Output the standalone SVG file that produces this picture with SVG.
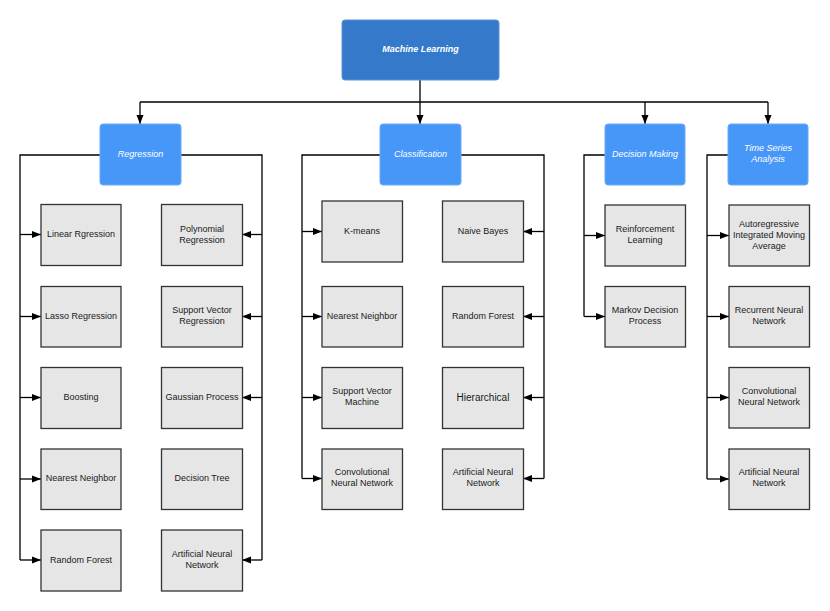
<svg xmlns="http://www.w3.org/2000/svg" width="830" height="611" viewBox="0 0 830 611">
<style>
.bg{fill:#ffffff}
.top{fill:#3479CA;stroke:#5a92d6;stroke-width:1}
.hdr{fill:#4797F8;stroke:#6aabf8;stroke-width:1}
.box{fill:#E6E6E6;stroke:#333333;stroke-width:1.3}
.ln{fill:none;stroke:#000000;stroke-width:1.3}
.ar{fill:none;stroke:#000000;stroke-width:1.3;marker-end:url(#ah)}
.t{font-family:"Liberation Sans",Arial,sans-serif;font-size:9px;fill:#1a1a1a;text-anchor:middle}
.th{font-family:"Liberation Sans",Arial,sans-serif;font-size:9px;fill:#ffffff;font-style:italic;text-anchor:middle}
.tt{font-family:"Liberation Sans",Arial,sans-serif;font-size:9px;fill:#ffffff;font-style:italic;font-weight:bold;text-anchor:middle}
</style>
<defs>
<marker id="ah" markerUnits="userSpaceOnUse" markerWidth="10" markerHeight="9" refX="9" refY="4.5" orient="auto">
<path d="M0,1 L9,4.5 L0,8 Z" fill="#000"/>
</marker>
</defs>
<rect class="bg" x="0" y="0" width="830" height="611"/>

<g id="connectors">
<path class="ln" d="M420,80 V102 M140,102 H768"/>
<path class="ar" d="M140,102 V124"/>
<path class="ar" d="M420,102 V124"/>
<path class="ar" d="M645,102 V124"/>
<path class="ar" d="M768,102 V124"/>
<!-- Regression -->
<path class="ln" d="M100,155 H20 V560"/>
<path class="ar" d="M20,234.5 H41"/>
<path class="ar" d="M20,316.5 H41"/>
<path class="ar" d="M20,397.5 H41"/>
<path class="ar" d="M20,479 H41"/>
<path class="ar" d="M20,560 H41"/>
<path class="ln" d="M181,155 H262 V560"/>
<path class="ar" d="M262,234.5 H242"/>
<path class="ar" d="M262,316.5 H242"/>
<path class="ar" d="M262,397.5 H242"/>
<path class="ar" d="M262,560 H242"/>
<!-- Classification -->
<path class="ln" d="M380,155 H302 V478.5"/>
<path class="ar" d="M302,231.5 H322"/>
<path class="ar" d="M302,316.5 H322"/>
<path class="ar" d="M302,397.5 H322"/>
<path class="ar" d="M302,478.5 H322"/>
<path class="ln" d="M461,155 H544 V478.5"/>
<path class="ar" d="M544,231.5 H523"/>
<path class="ar" d="M544,316.5 H523"/>
<path class="ar" d="M544,397.5 H523"/>
<path class="ar" d="M544,478.5 H523"/>
<!-- Decision Making -->
<path class="ln" d="M605,155 H584 V316.5"/>
<path class="ar" d="M584,235.5 H605"/>
<path class="ar" d="M584,316.5 H605"/>
<!-- Time Series -->
<path class="ln" d="M728,155 H707 V479"/>
<path class="ar" d="M707,235.5 H729"/>
<path class="ar" d="M707,316.5 H729"/>
<path class="ar" d="M707,397.5 H729"/>
<path class="ar" d="M707,479 H729"/>
</g>

<g id="machine-learning">
<rect class="top" x="342" y="20" width="157" height="60" rx="3"/>
<text class="tt" x="420.5" y="52">Machine Learning</text>
</g>

<g id="regression">
<rect class="hdr" x="100" y="124" width="81" height="61" rx="3"/>
<text class="th" x="140.5" y="157">Regression</text>
</g>
<g id="classification">
<rect class="hdr" x="380" y="124" width="81" height="61" rx="3"/>
<text class="th" x="420.5" y="157">Classification</text>
</g>
<g id="decision-making">
<rect class="hdr" x="605" y="124" width="80" height="61" rx="3"/>
<text class="th" x="645" y="157">Decision Making</text>
</g>
<g id="time-series">
<rect class="hdr" x="728" y="124" width="80" height="61" rx="3"/>
<text class="th" x="768" y="151">Time Series</text>
<text class="th" x="768" y="162">Analysis</text>
</g>

<!-- Regression children -->
<g id="linear-regression">
<rect class="box" x="41" y="204.5" width="80" height="61"/>
<text class="t" x="81" y="237">Linear Rgression</text>
</g>
<g id="lasso-regression">
<rect class="box" x="41" y="286.5" width="80" height="60.5"/>
<text class="t" x="81" y="319">Lasso Regression</text>
</g>
<g id="boosting">
<rect class="box" x="41" y="367.5" width="80" height="61"/>
<text class="t" x="81" y="400">Boosting</text>
</g>
<g id="reg-nearest-neighbor">
<rect class="box" x="41" y="449" width="80" height="60.5"/>
<text class="t" x="81" y="481">Nearest Neighbor</text>
</g>
<g id="reg-random-forest">
<rect class="box" x="41" y="530" width="80" height="61"/>
<text class="t" x="81" y="562.5">Random Forest</text>
</g>
<g id="polynomial-regression">
<rect class="box" x="161.5" y="204.5" width="81" height="61"/>
<text class="t" x="202" y="231.5">Polynomial</text>
<text class="t" x="202" y="242.5">Regression</text>
</g>
<g id="support-vector-regression">
<rect class="box" x="161.5" y="286.5" width="81" height="60.5"/>
<text class="t" x="202" y="313">Support Vector</text>
<text class="t" x="202" y="324">Regression</text>
</g>
<g id="gaussian-process">
<rect class="box" x="161.5" y="367.5" width="81" height="61"/>
<text class="t" x="202" y="400">Gaussian Process</text>
</g>
<g id="decision-tree">
<rect class="box" x="161.5" y="449" width="81" height="60.5"/>
<text class="t" x="202" y="481">Decision Tree</text>
</g>
<g id="reg-ann">
<rect class="box" x="161.5" y="530" width="81" height="61"/>
<text class="t" x="202" y="557">Artificial Neural</text>
<text class="t" x="202" y="568">Network</text>
</g>

<!-- Classification children -->
<g id="k-means">
<rect class="box" x="322" y="201" width="80.5" height="61"/>
<text class="t" x="362" y="233.5">K-means</text>
</g>
<g id="cls-nearest-neighbor">
<rect class="box" x="322" y="286.5" width="80.5" height="60.5"/>
<text class="t" x="362" y="319">Nearest Neighbor</text>
</g>
<g id="support-vector-machine">
<rect class="box" x="322" y="367.5" width="80.5" height="61"/>
<text class="t" x="362" y="394">Support Vector</text>
<text class="t" x="362" y="405">Machine</text>
</g>
<g id="cls-cnn">
<rect class="box" x="322" y="449" width="80.5" height="60.5"/>
<text class="t" x="362" y="475">Convolutional</text>
<text class="t" x="362" y="486">Neural Network</text>
</g>
<g id="naive-bayes">
<rect class="box" x="442.5" y="201" width="81" height="61"/>
<text class="t" x="483" y="233.5">Naive Bayes</text>
</g>
<g id="cls-random-forest">
<rect class="box" x="442.5" y="286.5" width="81" height="60.5"/>
<text class="t" x="483" y="319">Random Forest</text>
</g>
<g id="hierarchical">
<rect class="box" x="442.5" y="367.5" width="81" height="61"/>
<text class="t" x="483" y="400.5" style="font-size:10px">Hierarchical</text>
</g>
<g id="cls-ann">
<rect class="box" x="442.5" y="449" width="81" height="60.5"/>
<text class="t" x="483" y="475">Artificial Neural</text>
<text class="t" x="483" y="486">Network</text>
</g>

<!-- Decision Making children -->
<g id="reinforcement-learning">
<rect class="box" x="605" y="205" width="80.5" height="61"/>
<text class="t" x="645" y="232">Reinforcement</text>
<text class="t" x="645" y="243">Learning</text>
</g>
<g id="markov-decision-process">
<rect class="box" x="605" y="286.5" width="80.5" height="60.5"/>
<text class="t" x="645" y="313">Markov Decision</text>
<text class="t" x="645" y="324">Process</text>
</g>

<!-- Time Series children -->
<g id="arima">
<rect class="box" x="729" y="205" width="80.5" height="61"/>
<text class="t" x="769" y="227">Autoregressive</text>
<text class="t" x="769" y="238">Integrated Moving</text>
<text class="t" x="769" y="249">Average</text>
</g>
<g id="rnn">
<rect class="box" x="729" y="286.5" width="80.5" height="60.5"/>
<text class="t" x="769" y="313">Recurrent Neural</text>
<text class="t" x="769" y="324">Network</text>
</g>
<g id="ts-cnn">
<rect class="box" x="729" y="367.5" width="80.5" height="60.5"/>
<text class="t" x="769" y="394">Convolutional</text>
<text class="t" x="769" y="405">Neural Network</text>
</g>
<g id="ts-ann">
<rect class="box" x="729" y="449" width="80.5" height="60.5"/>
<text class="t" x="769" y="475">Artificial Neural</text>
<text class="t" x="769" y="486">Network</text>
</g>
</svg>
